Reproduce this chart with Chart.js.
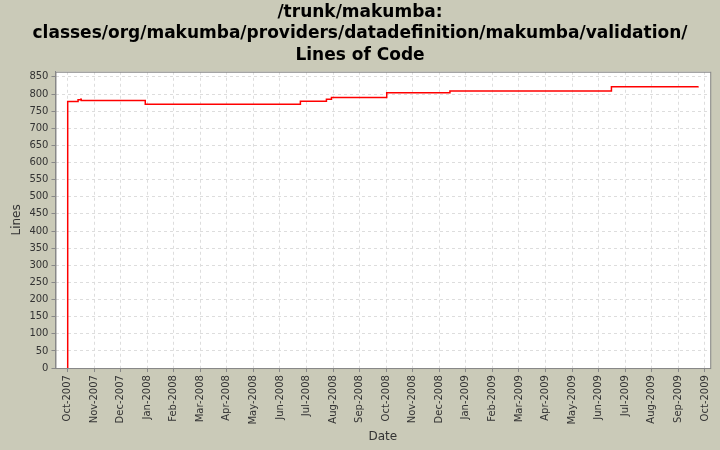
<!DOCTYPE html>
<html>
<head>
<meta charset="utf-8">
<script src="https://cdn.jsdelivr.net/npm/chart.js@4"></script>
<style>
html, body { margin: 0; padding: 0; background: #cacab8; }
#wrap { width: 720px; height: 450px; }
</style>
</head>
<body>
<div id="wrap"><canvas id="chart"></canvas></div>
<script>
// month index 0 = Oct-2007
const monthLabels = ['Oct-2007', 'Nov-2007', 'Dec-2007', 'Jan-2008', 'Feb-2008', 'Mar-2008', 'Apr-2008',
    'May-2008', 'Jun-2008', 'Jul-2008', 'Aug-2008', 'Sep-2008', 'Oct-2008', 'Nov-2008', 'Dec-2008',
    'Jan-2009', 'Feb-2009', 'Mar-2009', 'May-2009', 'Jun-2009', 'Jul-2009', 'Aug-2009', 'Sep-2009',
    'Oct-2009', 'Nov-2009'];
const dates = [0.0, 0.01, 0.40, 0.50, 0.52, 2.93, 8.77, 9.75, 9.94, 12.02, 14.40, 20.48, 23.74];
const lines = [0, 778, 783, 785, 781, 770, 779, 785, 790, 804, 809, 821, 823];
const yTicks = [0, 50, 100, 150, 200, 250, 300, 350, 400, 450, 500, 550, 600, 650, 700, 750, 800, 850];

const fontFamily = "'DejaVu Sans', sans-serif";

const background = {
    id: 'background',
    beforeDraw(chart) {
        const { ctx, chartArea: a } = chart;
        ctx.save();
        ctx.fillStyle = '#cacab8';
        ctx.fillRect(0, 0, chart.width, chart.height);
        ctx.fillStyle = '#ffffff';
        ctx.fillRect(a.left, a.top, a.right - a.left, a.bottom - a.top);
        ctx.restore();
    },
    afterDraw(chart) {
        const { ctx, chartArea: a } = chart;
        ctx.save();
        ctx.strokeStyle = '#888888';
        ctx.lineWidth = 1;
        ctx.strokeRect(a.left + 0.5, a.top + 0.5, a.right - a.left, a.bottom - a.top);
        ctx.restore();
    }
};

new Chart(document.getElementById('chart'), {
    type: 'line',
    data: {
        datasets: [{
            data: dates.map((d, i) => ({ x: d, y: lines[i] })),
            borderColor: '#ff0000',
            borderWidth: 1.5,
            pointRadius: 0,
            stepped: 'before',
            fill: false
        }]
    },
    options: {
        responsive: true,
        maintainAspectRatio: false,
        animation: false,
        layout: { padding: { left: 8, right: 8, top: 0, bottom: 4 } },
        plugins: {
            legend: { display: false },
            tooltip: { enabled: false },
            title: {
                display: true,
                text: ['/trunk/makumba:', 'classes/org/makumba/providers/datadefinition/makumba/validation/', 'Lines of Code'],
                color: '#000',
                font: { family: fontFamily, size: 17, weight: 'bold', lineHeight: 1.25 },
                padding: { top: 2, bottom: 6 }
            }
        },
        scales: {
            x: {
                type: 'linear',
                min: -0.45,
                max: 24.2,
                afterBuildTicks: (axis) => {
                    axis.ticks = monthLabels.map((_, i) => ({ value: i }));
                },
                ticks: {
                    color: '#333',
                    font: { family: fontFamily, size: 10 },
                    minRotation: 90,
                    maxRotation: 90,
                    autoSkip: false,
                    callback: (v) => {
                        const names = ['Oct-2007', 'Nov-2007', 'Dec-2007', 'Jan-2008', 'Feb-2008', 'Mar-2008', 'Apr-2008',
                            'May-2008', 'Jun-2008', 'Jul-2008', 'Aug-2008', 'Sep-2008', 'Oct-2008', 'Nov-2008', 'Dec-2008',
                            'Jan-2009', 'Feb-2009', 'Mar-2009', 'Apr-2009', 'May-2009', 'Jun-2009', 'Jul-2009', 'Aug-2009',
                            'Sep-2009', 'Oct-2009', 'Nov-2009'];
                        return names[v] || '';
                    }
                },
                grid: { color: '#dddddd', tickColor: '#888', tickLength: 4 },
                border: { color: '#888', dash: [3, 3] },
                title: { display: true, text: 'Date', color: '#333', font: { family: fontFamily, size: 12 }, padding: 2 }
            },
            y: {
                min: 0,
                max: 865,
                afterBuildTicks: (axis) => {
                    axis.ticks = yTicks.map((v) => ({ value: v }));
                },
                ticks: { color: '#333', font: { family: fontFamily, size: 10 }, padding: 3 },
                grid: { color: '#dddddd', tickColor: '#888', tickLength: 4 },
                border: { color: '#888', dash: [3, 3] },
                title: { display: true, text: 'Lines', color: '#333', font: { family: fontFamily, size: 12 }, padding: 2 }
            }
        }
    },
    plugins: [background]
});
</script>
</body>
</html>
